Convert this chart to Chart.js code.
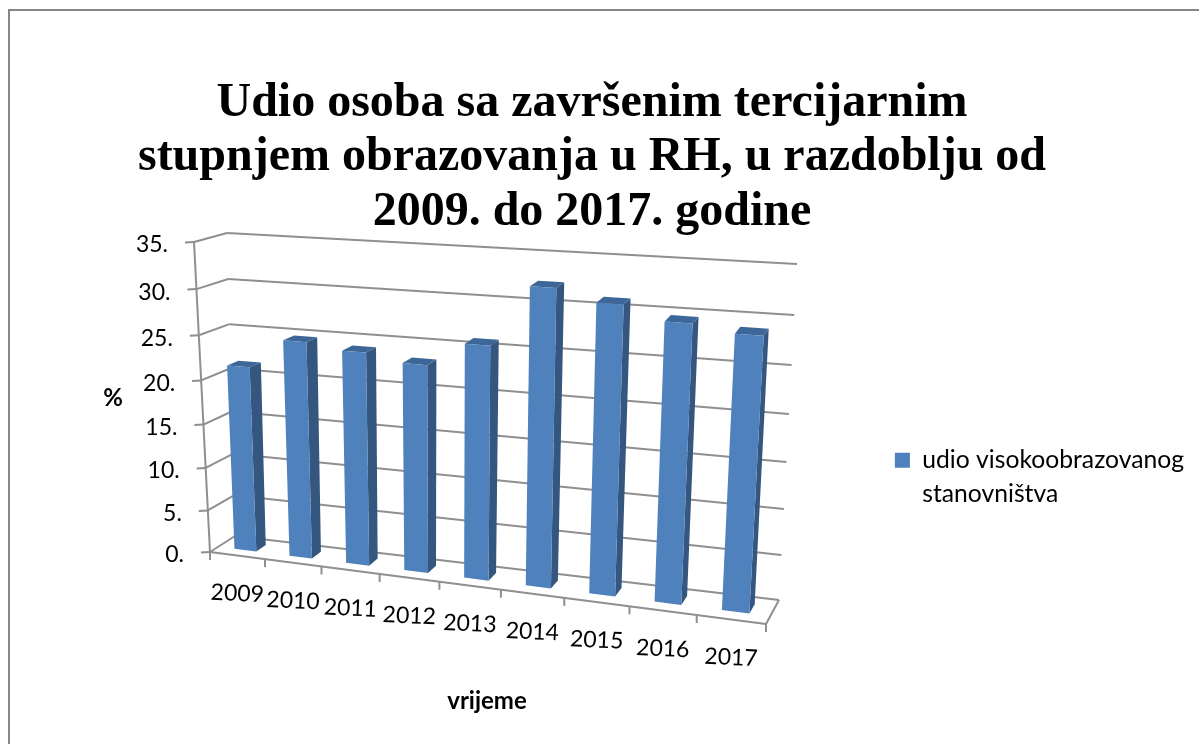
<!DOCTYPE html>
<html lang="hr">
<head>
<meta charset="UTF-8">
<title>Udio osoba sa završenim tercijarnim stupnjem obrazovanja</title>
<script src="https://cdn.jsdelivr.net/npm/chart.js"></script>
<style>
    html, body { margin: 0; padding: 0; background: #fff; overflow: hidden; }
    #wrap { position: absolute; left: 0; top: 0; width: 1199px; height: 744px; }
    #frame { position: absolute; left: 8px; top: 9px; right: 0; bottom: 0; border-left: 2px solid #868686; border-top: 2px solid #868686; }
</style>
</head>
<body>
<div id="wrap">
    <div id="frame"></div>
    <canvas id="chart" width="1199" height="744"></canvas>
</div>
<script>
// values
const years = ['2009', '2010', '2011', '2012', '2013', '2014', '2015', '2016', '2017'];
const shares = [21.4, 24.7, 24.1, 23.3, 25.9, 32.3, 31.1, 29.7, 29.0];
const yTickLabels = ['0.', '5.', '10.', '15.', '20.', '25.', '30.', '35.'];
const seriesName = 'udio visokoobrazovanog stanovništva';
const legendLines = ['udio visokoobrazovanog', 'stanovništva'];
const titleLines = ['Udio osoba sa završenim tercijarnim', 'stupnjem obrazovanja u RH, u razdoblju od', '2009. do 2017. godine'];

// corners of the 3D box on screen, used to project the flat chart
const box = {
    flb: [210, 552], frb: [766, 624], flt: [194, 242], frt: [785, 281],
    blb: [235, 536], brb: [779, 600], blt: [227, 233], brt: [797, 264]
};
const persU = -0.122, persV = -0.07;
const barDepth = [0.33, 0.72];

function project(u, v, d) {
    // u along the years, v up the value axis, d into the picture
    const a = u * (1 + persU) / (1 + persU * u);
    const b = v * (1 + persV) / (1 + persV * v);
    const out = [0, 0];
    for (let i = 0; i < 2; i++) {
        const front = (box.flb[i] * (1 - a) + box.frb[i] * a) * (1 - b) + (box.flt[i] * (1 - a) + box.frt[i] * a) * b;
        const back = (box.blb[i] * (1 - a) + box.brb[i] * a) * (1 - b) + (box.blt[i] * (1 - a) + box.brt[i] * a) * b;
        out[i] = front * (1 - d) + back * d;
    }
    return out;
}

function poly(ctx, pts, fill) {
    ctx.beginPath();
    pts.forEach((p, i) => i ? ctx.lineTo(p[0], p[1]) : ctx.moveTo(p[0], p[1]));
    ctx.closePath();
    ctx.fillStyle = fill;
    ctx.fill();
}

function line(ctx, a, b) {
    ctx.beginPath();
    ctx.moveTo(a[0], a[1]);
    ctx.lineTo(b[0], b[1]);
    ctx.stroke();
}

const perspectivePlugin = {
    id: 'perspective',
    beforeDatasetsDraw(chart) {
        const ctx = chart.ctx, xs = chart.scales.x, ys = chart.scales.y;
        const vOf = val => (ys.bottom - ys.getPixelForValue(val)) / (ys.bottom - ys.top);
        ctx.save();
        ctx.strokeStyle = '#8f8f8f';
        ctx.lineWidth = 2;
        // walls
        ys.ticks.forEach(t => {
            const v = vOf(t.value);
            const p = project(0, v, 0), q = project(0, v, 1), r = project(1, v, 1);
            line(ctx, [p[0] - 9, p[1] + 0.5], p);
            line(ctx, p, q);
            line(ctx, q, r);
        });
        line(ctx, project(0, 0, 0), project(0, 1, 0));
        // floor
        line(ctx, project(0, 0, 0), project(1, 0, 0));
        line(ctx, project(1, 0, 0), project(1, 0, 1));
        for (let i = 0; i <= years.length; i++) {
            const p = project(i / years.length, 0, 0);
            line(ctx, p, [p[0], p[1] + 8]);
        }
        // axis text
        ctx.fillStyle = '#000';
        ctx.font = '23px Lato';
        ctx.textAlign = 'right';
        ctx.textBaseline = 'middle';
        ys.ticks.forEach((t, i) => {
            const p = project(0, vOf(t.value), 0);
            ctx.fillText(yTickLabels[i], p[0] - 26, p[1] + 3);
        });
        ctx.textAlign = 'center';
        years.forEach((y, i) => {
            const u = (xs.getPixelForValue(i) - xs.left) / (xs.right - xs.left);
            const p = project(u, 0, 0);
            ctx.save();
            ctx.translate(p[0], p[1] + 38);
            ctx.rotate(2.5 * Math.PI / 180);
            ctx.fillText(y, 0, 0);
            ctx.restore();
        });
        ctx.font = 'bold 24px Lato';
        ctx.fillText('%', 113, 398);
        ctx.fillText('vrijeme', 487, 701);
        ctx.restore();
    },
    // the flat bars are replaced by their projected faces
    beforeDatasetDraw(chart, args) {
        const ctx = chart.ctx, xs = chart.scales.x, ys = chart.scales.y;
        const uOf = px => (px - xs.left) / (xs.right - xs.left);
        const vOf = px => (ys.bottom - px) / (ys.bottom - ys.top);
        args.meta.data.forEach(bar => {
            const u0 = uOf(bar.x - bar.width / 2), u1 = uOf(bar.x + bar.width / 2);
            const v0 = vOf(bar.base), v1 = vOf(bar.y);
            const [d0, d1] = barDepth;
            poly(ctx, [project(u1, v0, d0), project(u1, v0, d1), project(u1, v1, d1), project(u1, v1, d0)], '#34567f');
            poly(ctx, [project(u0, v1, d0), project(u1, v1, d0), project(u1, v1, d1), project(u0, v1, d1)], '#3d6798');
            poly(ctx, [project(u0, v0, d0), project(u1, v0, d0), project(u1, v1, d0), project(u0, v1, d0)], '#4f81bd');
        });
        return false;
    }
};

new Chart(document.getElementById('chart'), {
    type: 'bar',
    data: {
        labels: years,
        datasets: [{
            label: seriesName,
            data: shares,
            backgroundColor: '#4f81bd',
            barPercentage: 0.4,
            categoryPercentage: 1
        }]
    },
    options: {
        responsive: false,
        animation: false,
        layout: { padding: { top: 76, left: -10, right: 5, bottom: 20 } },
        scales: {
            x: { display: false, grid: { display: false } },
            y: { display: false, min: 0, max: 35, ticks: { stepSize: 5 } }
        },
        plugins: {
            title: {
                display: true,
                text: titleLines,
                color: '#000',
                font: { family: '"Liberation Serif"', size: 48, weight: 'bold', lineHeight: 1.14 },
                padding: { top: 0, bottom: 0 }
            },
            legend: {
                position: 'right',
                fullSize: false,
                labels: {
                    boxWidth: 15,
                    boxHeight: 15,
                    padding: 2,
                    color: '#000',
                    font: { family: 'Lato', size: 24.7, lineHeight: 1.38 },
                    generateLabels: () => [{ text: legendLines, fillStyle: '#4f81bd', strokeStyle: '#4f81bd', lineWidth: 0, datasetIndex: 0 }]
                }
            },
            tooltip: { enabled: false }
        }
    },
    plugins: [perspectivePlugin]
});
</script>
</body>
</html>
